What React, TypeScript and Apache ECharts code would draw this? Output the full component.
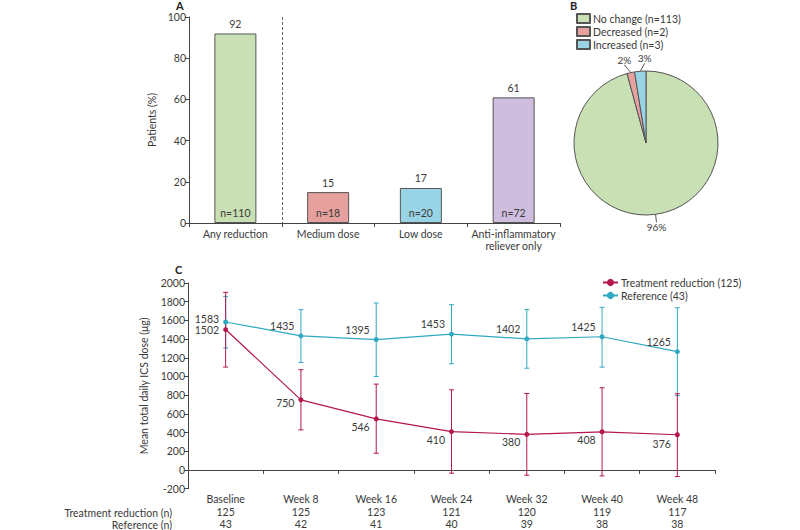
import React, { useEffect, useRef } from "react";
import * as echarts from "echarts";

// ---------- Data ----------
const barCategories = ["Any reduction", "Medium dose", "Low dose", "Anti-inflammatory\nreliever only"];
const barValues = [92, 15, 17, 61];
const barCounts = [110, 18, 20, 72];

const pieNames = ["No change (n=113)", "Decreased (n=2)", "Increased (n=3)"];
const pieValues = [113, 2, 3];

const timeCategories = ["Baseline", "Week 8", "Week 16", "Week 24", "Week 32", "Week 40", "Week 48"];
const treatmentName = "Treatment reduction (125)";
const referenceName = "Reference (43)";
const treatmentMean = [1502, 750, 546, 410, 380, 408, 376];
const treatmentLow = [1100, 428, 178, -35, -57, -64, -71];
const treatmentHigh = [1900, 1072, 918, 857, 818, 879, 815];
const referenceMean = [1583, 1435, 1395, 1453, 1402, 1425, 1265];
const referenceLow = [1305, 1150, 1000, 1136, 1088, 1100, 795];
const referenceHigh = [1857, 1715, 1786, 1768, 1715, 1740, 1735];
const treatmentN = [125, 125, 123, 121, 120, 119, 117];
const referenceN = [43, 42, 41, 40, 39, 38, 38];
const rowLabels = ["Treatment reduction (n)", "Reference (n)"];

// ---------- Styles ----------
const FONT = "Lato, 'Open Sans', sans-serif";
const FS = 10.5;
const TXT = "#3a3a3a";
const AXIS = "#444";
const barColors = ["#c8e0b3", "#e6a09d", "#98d3e6", "#cfbddd"];
const pieColors = ["#c8e0b3", "#e6a09d", "#98d3e6"];
const RED = "#b3174d";
const TEAL = "#30a8c0";
const treatLabelOffsets = [[0, 0], [0, 3], [0, 8], [0, 8], [0, 8], [0, 8], [0, 9]];
const refLabelOffsets = [[0, -3], [0, -10], [0, -10], [0, -10], [0, -10], [0, -10], [0, -10]];

const errorSeries = (low: number[], high: number[], color: string) => ({
  type: "custom",
  xAxisIndex: 1,
  yAxisIndex: 1,
  silent: true,
  z: 1,
  data: low.map((l, i) => [i, l, high[i]]),
  encode: { x: 0, y: [1, 2] },
  renderItem: (_params: any, api: any) => {
    const x = api.value(0);
    const lo = api.coord([x, api.value(1)]);
    const hi = api.coord([x, api.value(2)]);
    const w = 2.5;
    const st = { stroke: color, lineWidth: 1 };
    return {
      type: "group",
      children: [
        { type: "line", shape: { x1: lo[0], y1: lo[1], x2: hi[0], y2: hi[1] }, style: st },
        { type: "line", shape: { x1: lo[0] - w, y1: lo[1], x2: lo[0] + w, y2: lo[1] }, style: st },
        { type: "line", shape: { x1: hi[0] - w, y1: hi[1], x2: hi[0] + w, y2: hi[1] }, style: st },
      ],
    };
  },
});

export default function App() {
  const ref = useRef<HTMLDivElement>(null);
  useEffect(() => {
    if (!ref.current) return;
    const chart = echarts.init(ref.current, undefined, { renderer: "svg" });
    const axisCommon = {
      axisLine: { show: true, lineStyle: { color: AXIS, width: 1 } },
      axisTick: { show: true, length: 4, lineStyle: { color: AXIS } },
      splitLine: { show: false },
    };
    const option: any = {
      animation: false,
      backgroundColor: "#fff",
      textStyle: { fontFamily: FONT, color: TXT },
      grid: [
        { left: 189, right: 240, top: 17, bottom: 307 },
        { left: 188, right: 85, top: 283, bottom: 41 },
      ],
      xAxis: [
        {
          gridIndex: 0,
          type: "category",
          data: barCategories,
          ...axisCommon,
          axisLabel: { interval: 0, fontSize: FS, color: TXT, margin: 5, fontFamily: FONT, lineHeight: 12 },
        },
        {
          gridIndex: 1,
          type: "category",
          data: timeCategories,
          ...axisCommon,
          axisLabel: {
            interval: 0,
            margin: 4,
            fontFamily: FONT,
            formatter: (v: string, i: number) => `{c|${v}}\n{n|${treatmentN[i]}}\n{n|${referenceN[i]}}`,
            rich: {
              c: { fontSize: FS, lineHeight: 13, color: TXT, fontFamily: FONT },
              n: { fontSize: FS, lineHeight: 12.6, color: TXT, fontFamily: FONT },
            },
          },
        },
      ],
      yAxis: [
        {
          gridIndex: 0,
          type: "value",
          min: 0,
          max: 100,
          interval: 20,
          ...axisCommon,
          axisLabel: { fontSize: FS, color: TXT, margin: 3, fontFamily: FONT },
          name: "Patients (%)",
          nameLocation: "middle",
          nameRotate: 90,
          nameGap: 32,
          nameTextStyle: { fontSize: FS, color: TXT, fontFamily: FONT },
        },
        {
          gridIndex: 1,
          type: "value",
          min: -200,
          max: 2000,
          interval: 200,
          ...axisCommon,
          axisLabel: { fontSize: FS, color: TXT, margin: 3, fontFamily: FONT, formatter: (v: number) => String(v) },
          name: "Mean total daily ICS dose (μg)",
          nameLocation: "middle",
          nameRotate: 90,
          nameGap: 33,
          nameTextStyle: { fontSize: FS, color: TXT, fontFamily: FONT },
        },
      ],
      legend: [
        {
          data: pieNames,
          orient: "vertical",
          left: 576,
          top: 13,
          padding: 0,
          itemGap: 2,
          itemWidth: 13,
          itemHeight: 9,
          icon: "rect",
          textStyle: { fontSize: FS, color: TXT, fontFamily: FONT, padding: [0, 0, 0, -2] },
          selectedMode: false,
        },
        {
          data: [treatmentName, referenceName],
          orient: "vertical",
          left: 602,
          top: 277,
          padding: 0,
          itemGap: 2,
          itemWidth: 15,
          itemHeight: 9,
          textStyle: { fontSize: FS, color: TXT, fontFamily: FONT, padding: [0, 0, 0, -2] },
          selectedMode: false,
        },
      ],
      series: [
        {
          type: "bar",
          xAxisIndex: 0,
          yAxisIndex: 0,
          barWidth: 42,
          data: barValues.map((v, i) => ({ value: v, itemStyle: { color: barColors[i] } })),
          itemStyle: { borderColor: "#555", borderWidth: 1 },
          label: { show: true, position: "top", distance: 4, fontSize: FS, color: TXT, fontFamily: FONT },
        },
        {
          type: "bar",
          xAxisIndex: 0,
          yAxisIndex: 0,
          barWidth: 42,
          barGap: "-100%",
          silent: true,
          data: barValues,
          itemStyle: { color: "rgba(0,0,0,0)" },
          label: {
            show: true,
            position: "insideBottom",
            distance: 5,
            fontSize: FS,
            color: TXT,
            fontFamily: FONT,
            formatter: (p: any) => `n=${barCounts[p.dataIndex]}`,
          },
        },
        {
          type: "pie",
          center: [646, 143],
          radius: 72,
          startAngle: 90,
          clockwise: true,
          avoidLabelOverlap: false,
          data: pieNames.map((n, i) => ({ name: n, value: pieValues[i], itemStyle: { color: pieColors[i] } })),
          itemStyle: { borderColor: "#555", borderWidth: 1 },
          label: {
            show: true,
            formatter: (p: any) => `${Math.round(p.percent)}%`,
            fontSize: 10,
            color: TXT,
            fontFamily: FONT,
          },
          labelLine: { show: true, length: 7, length2: 0, lineStyle: { color: "#555", width: 1 } },
          labelLayout: (p: any) => {
            const pts = p.labelLinePoints;
            if (!pts) return {};
            const end = pts[pts.length - 1];
            const up = end[1] < 143;
            const dx = p.dataIndex === 1 ? -5 : p.dataIndex === 2 ? 5 : 0;
            return { x: end[0] + dx, y: up ? end[1] - 1 : end[1] + 1, align: "center", verticalAlign: up ? "bottom" : "top" };
          },
        },
        errorSeries(referenceLow, referenceHigh, TEAL),
        errorSeries(treatmentLow, treatmentHigh, RED),
        {
          type: "line",
          name: referenceName,
          xAxisIndex: 1,
          yAxisIndex: 1,
          data: referenceMean.map((v, i) => ({ value: v, label: { offset: refLabelOffsets[i] } })),
          color: TEAL,
          lineStyle: { color: TEAL, width: 1.2 },
          itemStyle: { color: TEAL },
          symbol: "circle",
          symbolSize: 5,
          z: 3,
          label: { show: true, position: "left", distance: 4, fontSize: FS, color: TXT, fontFamily: FONT },
        },
        {
          type: "line",
          name: treatmentName,
          xAxisIndex: 1,
          yAxisIndex: 1,
          data: treatmentMean.map((v, i) => ({ value: v, label: { offset: treatLabelOffsets[i] } })),
          color: RED,
          lineStyle: { color: RED, width: 1.2 },
          itemStyle: { color: RED },
          symbol: "circle",
          symbolSize: 5,
          z: 3,
          label: { show: true, position: "left", distance: 4, fontSize: FS, color: TXT, fontFamily: FONT },
        },
      ],
      graphic: [
        { type: "text", left: 176, top: 0, style: { text: "A", fontSize: 11, fontWeight: "bold", fill: "#222", fontFamily: FONT } },
        { type: "text", left: 570, top: 0, style: { text: "B", fontSize: 11, fontWeight: "bold", fill: "#222", fontFamily: FONT } },
        { type: "text", left: 175, top: 264, style: { text: "C", fontSize: 11, fontWeight: "bold", fill: "#222", fontFamily: FONT } },
        { type: "text", x: 172, y: 513, style: { text: rowLabels[0], fontSize: FS, fill: TXT, fontFamily: FONT, align: "right", verticalAlign: "middle" } },
        { type: "text", x: 172, y: 525, style: { text: rowLabels[1], fontSize: FS, fill: TXT, fontFamily: FONT, align: "right", verticalAlign: "middle" } },
      ],
    };
    chart.setOption(option);
    // dashed separator between first and second category of panel A
    const p0 = chart.convertToPixel({ xAxisIndex: 0 }, 0) as number;
    const p1 = chart.convertToPixel({ xAxisIndex: 0 }, 1) as number;
    const yTop = chart.convertToPixel({ yAxisIndex: 0 }, 100) as number;
    const yBot = chart.convertToPixel({ yAxisIndex: 0 }, 0) as number;
    const xm = Math.round((p0 + p1) / 2) + 0.5;
    chart.setOption({
      graphic: [
        ...option.graphic,
        {
          type: "line",
          shape: { x1: xm, y1: yTop, x2: xm, y2: yBot },
          style: { stroke: "#666", lineWidth: 1, lineDash: [3, 2] },
          z: 0,
        },
      ],
    });
    return () => chart.dispose();
  }, []);
  return <div ref={ref} style={{ position: "absolute", left: 0, top: 0, width: 800, height: 530 }} />;
}
